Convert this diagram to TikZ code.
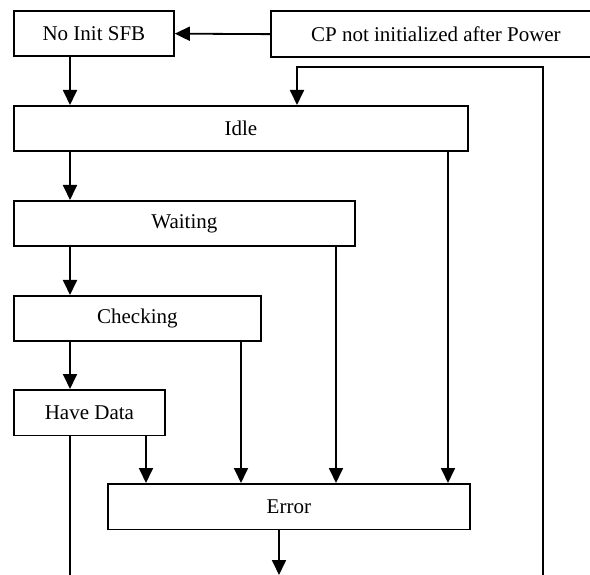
\documentclass[tikz,border=0pt]{standalone}
\usepackage{fontspec}
\setmainfont{Liberation Serif}
\usetikzlibrary{arrows.meta}
\begin{document}
\begin{tikzpicture}[x=1pt,y=-1pt,
  statebox/.style={draw, line width=1.8pt, inner sep=0pt, anchor=north west,
    font=\fontsize{21}{25}\selectfont, minimum height=45.5pt},
  flow/.style={line width=1.8pt, -{Triangle[length=15pt,width=14pt]}},
  plain/.style={line width=1.8pt}]
\useasboundingbox (0,0) rectangle (590,575);
\clip (0,0) rectangle (590,575);
% states
\node[statebox, minimum width=160pt] (noinit) at (13,10) {No Init SFB};
\node[statebox, minimum width=330pt] (cp) at (270,10.5) {CP not initialized after Power};
\node[statebox, minimum width=454pt] (idle) at (13,105) {Idle};
\node[statebox, minimum width=341pt] (waiting) at (13,200) {Waiting};
\node[statebox, minimum width=247pt] (checking) at (13,295) {Checking};
\node[statebox, minimum width=151pt] (havedata) at (13,389) {Have Data};
\node[statebox, minimum width=362pt] (error) at (107,483) {Error};
% column positions of the vertical connectors
\coordinate (colA) at (70,0);
\coordinate (colHD) at (146,0);
\coordinate (colCh) at (241,0);
\coordinate (colW) at (336,0);
\coordinate (colI) at (448,0);
\coordinate (colLoop) at (543,0);
\coordinate (colLoopIn) at (297,0);
\coordinate (colOut) at (279,0);
\coordinate (loopBottom) at (543,575);
\coordinate (loopTop) at (543,67);
\coordinate (hdEnd) at (70,575);
\coordinate (errEnd) at (279,575);
% main chain
\draw[flow] (cp.west) -- (noinit.east);
\draw[flow] (noinit.south -| colA) -- (idle.north -| colA);
\draw[flow] (idle.south -| colA) -- (waiting.north -| colA);
\draw[flow] (waiting.south -| colA) -- (checking.north -| colA);
\draw[flow] (checking.south -| colA) -- (havedata.north -| colA);
% transitions into Error
\draw[flow] (havedata.south -| colHD) -- (error.north -| colHD);
\draw[flow] (checking.south -| colCh) -- (error.north -| colCh);
\draw[flow] (waiting.south -| colW) -- (error.north -| colW);
\draw[flow] (idle.south -| colI) -- (error.north -| colI);
% outgoing lines
\draw[plain] (havedata.south -| colA) -- (hdEnd);
\draw[flow] (error.south -| colOut) -- (errEnd);
% return path into Idle
\draw[flow, line join=miter] (loopBottom) -- (loopTop) -- (loopTop -| colLoopIn) -- (idle.north -| colLoopIn);
\end{tikzpicture}
\end{document}
